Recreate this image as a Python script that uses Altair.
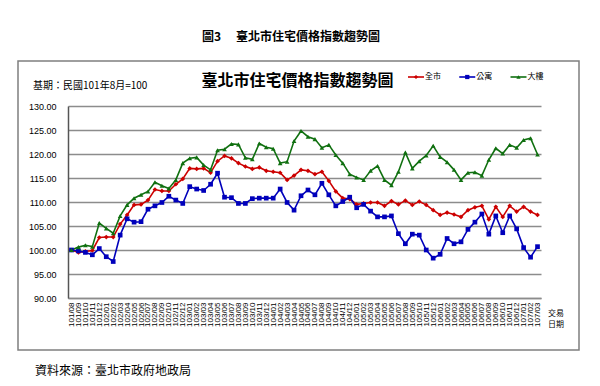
import altair as alt
import pandas as pd

months = [
    "101/08", "101/09", "101/10", "101/11", "101/12",
    "102/01", "102/02", "102/03", "102/04", "102/05", "102/06",
    "102/07", "102/08", "102/09", "102/10", "102/11", "102/12",
    "103/01", "103/02", "103/03", "103/04", "103/05", "103/06",
    "103/07", "103/08", "103/09", "103/10", "103/11", "103/12",
    "104/01", "104/02", "104/03", "104/04", "104/05", "104/06",
    "104/07", "104/08", "104/09", "104/10", "104/11", "104/12",
    "105/01", "105/02", "105/03", "105/04", "105/05", "105/06",
    "105/07", "105/08", "105/09", "105/10", "105/11", "105/12",
    "106/01", "106/02", "106/03", "106/04", "106/05", "106/06",
    "106/07", "106/08", "106/09", "106/10", "106/11", "106/12",
    "107/01", "107/02", "107/03",
]

series_names = ["全市", "公寓", "大樓"]
series_colors = ["#CC0000", "#0000BB", "#107010"]
series_shapes = ["diamond", "square", "triangle-up"]

city = [
    100.0, 99.5, 99.7, 99.9, 102.6, 102.7, 102.7, 105.4, 107.3, 109.4,
    109.5, 110.4, 112.6, 112.3, 112.3, 113.7, 114.8, 117.0, 116.9, 117.0,
    116.1, 118.5, 119.6, 119.1, 118.1, 117.4, 116.9, 117.2, 116.5, 116.3,
    116.1, 114.6, 115.5, 116.7, 116.5, 115.8, 116.3, 114.4, 112.2, 110.8,
    110.6, 109.5, 109.7, 109.9, 109.9, 109.2, 110.2, 109.5, 110.3, 109.4,
    110.1, 109.4, 108.3, 107.3, 107.8, 107.4, 106.9, 108.3, 108.9, 109.2,
    106.4, 109.0, 106.9, 109.2, 108.0, 109.0, 108.0, 107.3,
]

apartment = [
    100.0, 99.8, 99.5, 99.0, 100.3, 98.6, 97.6, 103.1, 106.5, 105.8,
    105.9, 108.5, 109.2, 109.9, 111.2, 110.4, 109.7, 113.2, 112.7, 112.4,
    113.7, 116.0, 111.0, 110.9, 109.7, 109.7, 110.7, 110.8, 110.8, 110.8,
    112.7, 109.9, 108.3, 111.3, 112.5, 111.5, 113.9, 111.5, 109.2, 110.1,
    111.0, 108.8, 109.5, 108.1, 106.9, 106.9, 107.1, 103.4, 101.3, 103.3,
    103.1, 100.0, 98.3, 99.1, 102.4, 101.3, 101.7, 104.3, 105.8, 107.5,
    103.3, 107.1, 103.6, 107.1, 104.4, 100.5, 98.5, 100.7,
]

building = [
    100.0, 100.6, 101.0, 100.7, 105.6, 104.5, 103.5, 107.1, 109.4, 110.8,
    111.5, 112.2, 114.1, 113.4, 112.8, 114.6, 118.1, 119.1, 119.3, 117.7,
    116.7, 120.8, 121.0, 122.1, 122.0, 119.2, 118.9, 122.2, 121.4, 121.1,
    118.1, 118.4, 122.7, 124.8, 123.6, 123.1, 121.3, 121.9, 119.8, 118.1,
    115.8, 115.1, 114.6, 116.5, 117.5, 114.6, 113.5, 116.3, 120.3, 117.0,
    118.5, 119.7, 121.7, 119.4, 118.3, 116.7, 114.6, 116.1, 116.2, 115.5,
    118.8, 121.2, 120.1, 121.9, 121.3, 122.9, 123.3, 119.9,
]

y_ticks = [90, 95, 100, 105, 110, 115, 120, 125, 130]

fig_title = "圖3　 臺北市住宅價格指數趨勢圖"
chart_title = "臺北市住宅價格指數趨勢圖"
base_note = "基期：民國101年8月=100"
x_title_lines = ["交易", "日期"]
source_note = "資料來源：臺北市政府地政局"

# long table
rows = []
for name, vals in zip(series_names, [city, apartment, building]):
    for m, v in zip(months, vals):
        rows.append({"month": m, "series": name, "value": v})
df = pd.DataFrame(rows)

CJK = "Noto Sans CJK TC"
LAT = "Liberation Sans"

color_scale = alt.Scale(domain=series_names, range=series_colors)
shape_scale = alt.Scale(domain=series_names, range=series_shapes)
x_scale = alt.Scale(type="point", padding=0.5)
y_scale = alt.Scale(domain=[90, 130], nice=False, zero=False)

x_axis = alt.Axis(
    title=None,
    labelAngle=-90,
    labelFont=LAT,
    labelFontSize=8,
    labelColor="#000000",
    labelOverlap=False,
    labelPadding=4,
    ticks=False,
    domainColor="#8c8c8c",
    domainWidth=1.5,
    grid=False,
)
y_axis = alt.Axis(
    title=None,
    values=y_ticks,
    format=".2f",
    labelFont=LAT,
    labelFontSize=9,
    labelColor="#000000",
    labelPadding=12,
    labelOverlap=False,
    ticks=False,
    domainColor="#555555",
    domainWidth=1.5,
    grid=True,
    gridColor="#8c8c8c",
    gridWidth=1.5,
)
x_enc = alt.X("month:O", sort=months, scale=x_scale, axis=x_axis)
y_enc = alt.Y("value:Q", scale=y_scale, axis=y_axis)

lines = alt.Chart(df).mark_line(strokeWidth=1.6).encode(
    x=x_enc,
    y=y_enc,
    color=alt.Color("series:N", scale=color_scale, legend=None),
    detail="series:N",
)
points = alt.Chart(df).mark_point(filled=True, size=22, opacity=1).encode(
    x=x_enc,
    y=y_enc,
    color=alt.Color("series:N", scale=color_scale, legend=None),
    shape=alt.Shape("series:N", scale=shape_scale, legend=None),
)
main = alt.layer(lines, points)

# custom legend (line + marker + label)
leg_df = pd.DataFrame({"series": series_names})
leg_x = alt.X("series:N", sort=series_names,
              scale=alt.Scale(type="point", domain=series_names, range=[348, 450.5], padding=0),
              axis=None)
leg_y = alt.value(-29)
leg_line = alt.Chart(leg_df).mark_point(shape="stroke", size=256, strokeWidth=1.6, opacity=1).encode(
    x=leg_x, y=leg_y,
    color=alt.Color("series:N", scale=color_scale, legend=None),
)
leg_pt = alt.Chart(leg_df).mark_point(filled=True, size=18, opacity=1).encode(
    x=leg_x, y=leg_y,
    color=alt.Color("series:N", scale=color_scale, legend=None),
    shape=alt.Shape("series:N", scale=shape_scale, legend=None),
)
leg_txt = alt.Chart(leg_df).mark_text(
    align="left", baseline="middle", dx=9, font=CJK, fontSize=8, color="#000000"
).encode(x=leg_x, y=leg_y, text="series:N")
legend = alt.layer(leg_line, leg_pt, leg_txt)

one = pd.DataFrame({"k": [0]})


def label(text, x, y, size, weight="normal", align="center"):
    return alt.Chart(one).mark_text(
        text=text, font=CJK, fontSize=size, fontWeight=weight,
        align=align, baseline="middle", color="#000000",
    ).encode(x=alt.value(x), y=alt.value(y))


frame = alt.Chart(one).mark_rect(
    fillOpacity=0, stroke="#7f7f7f", strokeWidth=1.5
).encode(x=alt.value(-50), x2=alt.value(511), y=alt.value(-45), y2=alt.value(244))

deco = alt.layer(
    frame,
    label(fig_title, 223, -69, 12, "bold"),
    label(chart_title, 229.5, -25, 16, "bold"),
    label(base_note, -35, -20, 10, align="left"),
    label(x_title_lines[0], 488, 208, 8),
    label(x_title_lines[1], 488, 219, 8),
    label(source_note, -33, 265, 12, align="left"),
)

chart = alt.layer(main, legend, deco).resolve_scale(x="independent").properties(
    width=473,
    height=192,
    padding={"left": 60, "top": 98, "right": 51, "bottom": 80},
    autosize=alt.AutoSizeParams(type="none"),
    background="#ffffff",
).configure_view(strokeWidth=0)

chart.save("out.html", embed_options={"renderer": "svg", "actions": False})
